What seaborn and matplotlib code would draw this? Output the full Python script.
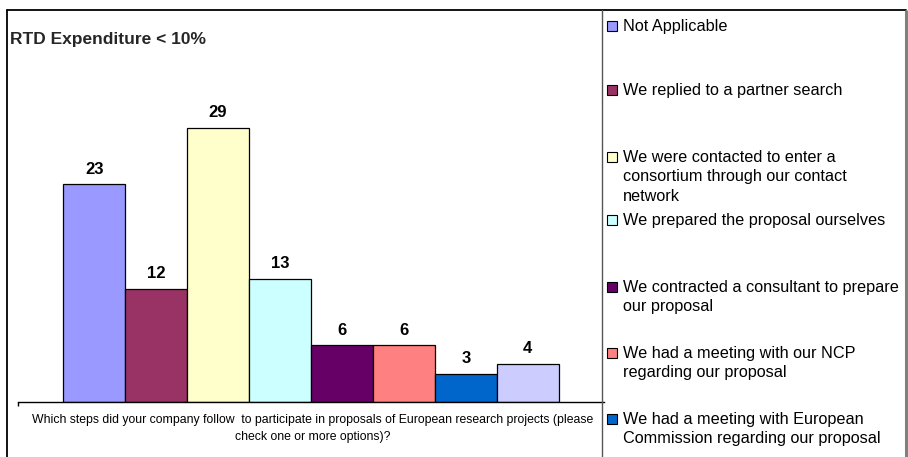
import matplotlib
matplotlib.use("Agg")
import matplotlib.pyplot as plt
import seaborn as sns
import pandas as pd
from matplotlib.patches import Rectangle
from matplotlib.lines import Line2D

# ---- data ----
categories = [
    "Not Applicable",
    "We replied to a partner search",
    "We were contacted to enter a\nconsortium through our contact\nnetwork",
    "We prepared the proposal ourselves",
    "We contracted a consultant to prepare\nour proposal",
    "We had a meeting with our NCP\nregarding our proposal",
    "We had a meeting with European\nCommission regarding our proposal",
    "Other",
]
values = [23, 12, 29, 13, 6, 6, 3, 4]
colors = ["#9999FF", "#993366", "#FFFFCC", "#CCFFFF",
          "#660066", "#FF8080", "#0066CC", "#CCCCFF"]
title = "RTD Expenditure < 10%"
xlabel_lines = [
    "Which steps did your company follow  to participate in proposals of European research projects (please",
    "check one or more options)?",
]
legend_shown = 7  # entries visible in the crop

sns.set_theme(style="white")
plt.rcParams["font.family"] = ["Liberation Sans", "DejaVu Sans"]

W, H = 908, 457
fig = plt.figure(figsize=(W / 100, H / 100), dpi=100)

def fx(px):
    return px / W

def fy(py):
    return 1 - py / H

# axes placement (pixels)
ax_left, ax_right = 18, 604
ax_bottom = 402.3
px_per_unit = 9.47
ymax = 30
ax = fig.add_axes([fx(ax_left), fy(ax_bottom), fx(ax_right - ax_left), px_per_unit * ymax / H])

df = pd.DataFrame({"cat": categories, "val": values})
sns.barplot(data=df, x="cat", y="val", hue="cat", palette=colors, width=1.0,
            edgecolor="black", linewidth=0.9, legend=False, ax=ax, saturation=1)

ax.set_xlim(-1.23, 8.23)
ax.set_ylim(0, ymax)
for s in ["left", "right", "top"]:
    ax.spines[s].set_visible(False)
ax.spines["bottom"].set_color("black")
ax.spines["bottom"].set_linewidth(1.0)
ax.set_yticks([])
ax.set_xticks([-1.23])
ax.set_xticklabels([""])
ax.tick_params(axis="x", direction="out", length=3, width=1, color="black", bottom=True)
ax.set_xlabel("")
ax.set_ylabel("")
ax.patch.set_alpha(0)

for i, v in enumerate(values):
    ax.annotate(str(v), (i, v), xytext=(0, 7.9), textcoords="offset points",
                ha="center", va="baseline", fontsize=12, fontweight="bold", color="black")

# title
fig.text(fx(10), fy(44), title, fontsize=12.5, fontweight="bold", ha="left", va="baseline")

# x-axis label (one text per line)
for k, line in enumerate(xlabel_lines):
    fig.text(fx(313), fy(423.3 + 17 * k), line, fontsize=8.8, ha="center", va="baseline", color="black")

# frames
fig.add_artist(Line2D([fx(7), fx(7)], [fy(10), 0], transform=fig.transFigure, color="black", lw=1.3))
fig.add_artist(Line2D([fx(7), fx(906)], [fy(10), fy(10)], transform=fig.transFigure, color="black", lw=1.3))
fig.add_artist(Line2D([fx(602), fx(602)], [fy(10), 0], transform=fig.transFigure, color="#555555", lw=1.0))
fig.add_artist(Line2D([fx(905.5), fx(905.5)], [fy(11), 0], transform=fig.transFigure, color="#808080", lw=2.2))

# legend (manually laid out to match the evenly spaced entries)
entry_y = [25.7, 90, 156.7, 220, 286.7, 352.7, 419]
line_step = 19.5
for lab, col, yc in zip(categories[:legend_shown], colors[:legend_shown], entry_y):
    fig.add_artist(Rectangle((fx(607), fy(yc + 5)), fx(10), 10 / H, transform=fig.transFigure,
                             facecolor=col, edgecolor="black", lw=0.8))
    for k, line in enumerate(lab.split("\n")):
        fig.text(fx(623), fy(yc + 5 + line_step * k), line, fontsize=11.7,
                 ha="left", va="baseline", color="black")

fig.savefig("out.png", dpi=100)
